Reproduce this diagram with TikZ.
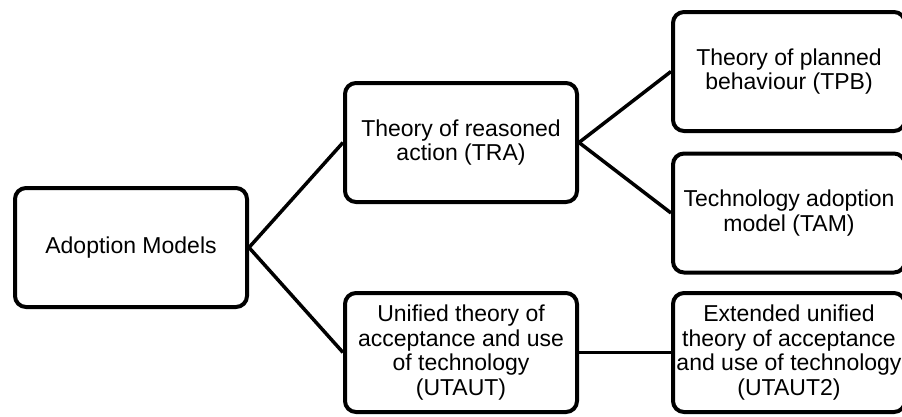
\documentclass[tikz,border=0pt]{standalone}
\usepackage{fontspec}
\setmainfont{Liberation Sans}
\usetikzlibrary{arrows.meta}

\begin{document}
\begin{tikzpicture}[x=1pt,y=-1pt,
model/.style={draw,line width=4pt,rounded corners=11pt,minimum width=232pt,minimum height=119pt,align=center,inner sep=0pt,font=\fontsize{23}{24.5}\selectfont},
link/.style={line width=3.5pt}]
\useasboundingbox(0,0)rectangle(902,416);
\node[model](adopt)at(131,247.5){Adoption Models};
\node[model](tra)at(461,142.5){Theory of reasoned\\action (TRA)};
\node[model](tpb)at(789,71.5){Theory of planned\\behaviour (TPB)};
\node[model](tam)at(789,213){Technology adoption\\model (TAM)};
\node[model](utaut)at(461,352.5){Unified theory of\\acceptance and use\\of technology\\(UTAUT)};
\node[model](utaut2)at(789,352.5){Extended unified\\theory of acceptance\\and use of technology\\(UTAUT2)};
\draw[link](adopt.east)--(tra.west);
\draw[link](adopt.east)--(utaut.west);
\draw[link](tra.east)--(tpb.west);
\draw[link](tra.east)--(tam.west);
\draw[link](utaut.east)--(utaut2.west);
\end{tikzpicture}
\end{document}
